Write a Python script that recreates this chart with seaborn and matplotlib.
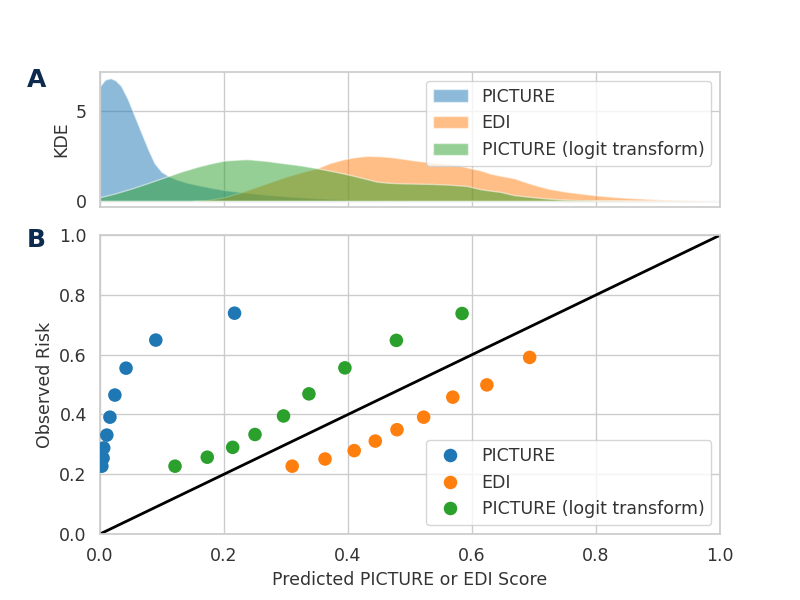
import matplotlib
matplotlib.use("Agg")
import matplotlib.pyplot as plt
import pandas as pd
import seaborn as sns

# Series names
series_names = ["PICTURE", "EDI", "PICTURE (logit transform)"]

# KDE curves
picture_kde_x = [0.0, 0.008, 0.017, 0.025, 0.034, 0.045, 0.056, 0.067, 0.078, 0.088, 0.099,
                 0.110, 0.125, 0.14, 0.158, 0.18, 0.201, 0.22, 0.239, 0.27, 0.3, 0.35, 0.4,
                 0.45, 0.5, 0.6, 0.7, 1.0]
picture_kde_y = [6.4, 6.75, 6.84, 6.72, 6.41, 5.66, 4.72, 3.78, 2.85, 2.10, 1.63,
                 1.39, 1.18, 1.02, 0.88, 0.73, 0.60, 0.52, 0.45, 0.34, 0.25, 0.14, 0.07,
                 0.035, 0.015, 0.005, 0.0, 0.0]

edi_kde_x = [0.15, 0.175, 0.2, 0.225, 0.25, 0.275, 0.3, 0.325, 0.35, 0.37, 0.393, 0.41,
             0.431, 0.45, 0.469, 0.49, 0.512, 0.54, 0.565, 0.582, 0.598, 0.614, 0.63,
             0.646, 0.668, 0.695, 0.722, 0.75, 0.775, 0.8, 0.829, 0.855, 0.883, 0.91,
             0.937, 0.97, 1.0]
edi_kde_y = [0.0, 0.05, 0.2, 0.45, 0.75, 1.05, 1.35, 1.6, 1.82, 2.1, 2.32, 2.43,
             2.51, 2.49, 2.44, 2.34, 2.23, 2.13, 2.04, 1.95, 1.82, 1.7, 1.52,
             1.4, 1.26, 0.95, 0.69, 0.52, 0.41, 0.31, 0.22, 0.16, 0.11, 0.07,
             0.04, 0.015, 0.0]

logit_kde_x = [0.0, 0.025, 0.051, 0.078, 0.104, 0.13, 0.158, 0.18, 0.201, 0.234, 0.242,
               0.27, 0.296, 0.325, 0.35, 0.38, 0.404, 0.425, 0.447, 0.465, 0.485, 0.51,
               0.539, 0.565, 0.592, 0.614, 0.63, 0.646, 0.668, 0.7, 0.722, 0.75, 0.775,
               0.85, 1.0]
logit_kde_y = [0.2, 0.42, 0.69, 1.0, 1.31, 1.62, 1.91, 2.1, 2.25, 2.32, 2.31,
               2.22, 2.10, 1.97, 1.82, 1.62, 1.44, 1.26, 1.07, 1.01, 0.98, 0.96,
               0.94, 0.9, 0.83, 0.65, 0.57, 0.5, 0.32, 0.2, 0.13, 0.07, 0.04,
               0.01, 0.0]

# Calibration points
picture_pred = [0.003, 0.005, 0.006, 0.011, 0.016, 0.024, 0.042, 0.090, 0.217]
picture_obs = [0.227, 0.254, 0.288, 0.331, 0.391, 0.465, 0.555, 0.649, 0.739]

edi_pred = [0.310, 0.363, 0.410, 0.444, 0.479, 0.522, 0.569, 0.624, 0.693]
edi_obs = [0.227, 0.251, 0.279, 0.311, 0.349, 0.391, 0.458, 0.499, 0.591]

logit_pred = [0.121, 0.173, 0.214, 0.250, 0.296, 0.337, 0.395, 0.478, 0.584]
logit_obs = [0.227, 0.257, 0.290, 0.333, 0.395, 0.469, 0.556, 0.648, 0.738]

sns.set_theme(style="whitegrid")
plt.rcParams.update({
    "font.size": 12.5,
    "axes.labelsize": 12.5,
    "xtick.labelsize": 12.5,
    "ytick.labelsize": 12.5,
    "legend.fontsize": 12.5,
    "text.color": "#333333",
    "axes.labelcolor": "#333333",
    "xtick.color": "#333333",
    "ytick.color": "#333333",
})
colors = sns.color_palette("tab10", 3)

fig = plt.figure(figsize=(8, 6), dpi=100)
ax_top = fig.add_axes([0.125, 0.655, 0.775, 0.225])
ax_bot = fig.add_axes([0.125, 0.11, 0.775, 0.498])

# Panel A: KDE fills
kde_curves = [(picture_kde_x, picture_kde_y), (edi_kde_x, edi_kde_y), (logit_kde_x, logit_kde_y)]
for (xs, ys), name, c in zip(kde_curves, series_names, colors):
    ax_top.fill_between(xs, ys, color=c, alpha=0.5, edgecolor="white", linewidth=1, label=name)
ax_top.set_xlim(0, 1)
ax_top.set_yticks([0, 5])
ax_top.set_xticks([0, 0.2, 0.4, 0.6, 0.8, 1.0])
ax_top.set_xticklabels([])
ax_top.set_ylabel("KDE")
ax_top.legend(loc="upper right")

# Panel B: calibration scatter
calib = pd.concat([
    pd.DataFrame({"pred": picture_pred, "obs": picture_obs, "model": series_names[0]}),
    pd.DataFrame({"pred": edi_pred, "obs": edi_obs, "model": series_names[1]}),
    pd.DataFrame({"pred": logit_pred, "obs": logit_obs, "model": series_names[2]}),
])
sns.scatterplot(data=calib, x="pred", y="obs", hue="model", hue_order=series_names,
                palette=colors, s=95, linewidth=0, ax=ax_bot, zorder=3)
ax_bot.plot([0, 1], [0, 1], color="black", linewidth=2, zorder=2)
ax_bot.set_xlim(0, 1)
ax_bot.set_ylim(0, 1)
ax_bot.set_xlabel("Predicted PICTURE or EDI Score")
ax_bot.set_ylabel("Observed Risk")
ax_bot.legend(loc="lower right", title=None)

fig.text(0.033, 0.855, "A", fontsize=18, fontweight="bold", color="#0d2b4e")
fig.text(0.033, 0.588, "B", fontsize=18, fontweight="bold", color="#0d2b4e")

fig.savefig("out.png", dpi=100)
